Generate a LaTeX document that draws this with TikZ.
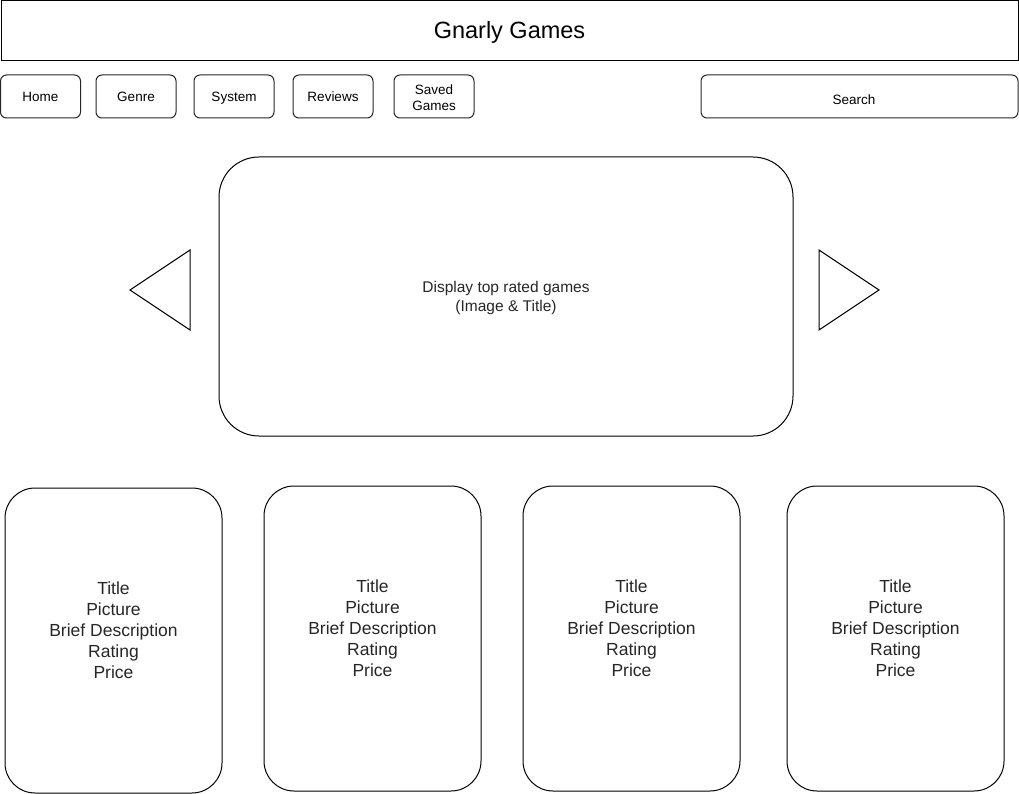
\documentclass[tikz,border=0pt]{standalone}
\usepackage{fontspec}
\setmainfont{Liberation Sans}
\begin{document}
\begin{tikzpicture}[x=1pt,y=-1pt,
  frame/.style={draw=black,line width=1pt,inner sep=0pt},
  navbtn/.style={frame,draw=black!85,rounded corners=6pt,minimum width=80pt,minimum height=43pt},
  navtext/.style={inner sep=0pt,align=center,font=\fontsize{13.5}{16}\selectfont},
  card/.style={frame,rounded corners=30pt,minimum width=217pt,minimum height=305pt},
  cardtext/.style={inner sep=0pt,align=center,font=\fontsize{17.5}{21}\selectfont,text=black!85},
  arrowtri/.style={draw=black,line width=1pt,line join=miter}]
\useasboundingbox (0,0) rectangle (1019,794);
% header
\node[frame,minimum width=1017pt,minimum height=60pt] (header) at (509.5,30.5) {};
\node[inner sep=0pt,font=\fontsize{23.5}{28}\selectfont] (headertext)
  at ([yshift=-2pt]header.center) {Gnarly Games};
% navigation bar
\node[navbtn] (home)    at (40.5,96.5)  {};
\node[navbtn] (genre)   at (136,96.5)   {};
\node[navbtn] (system)  at (234,96.5)   {};
\node[navbtn] (reviews) at (333,96.5)   {};
\node[navbtn] (saved)   at (434,96.5)   {};
\node[navbtn,minimum width=317pt] (search) at (859.5,96.5) {};
\begin{scope}[every node/.append style={navtext,text height=9.7pt,text depth=0pt}]
  \node (hometext)    at ([yshift=-0.5pt]home.center)    {Home};
  \node (genretext)   at ([yshift=-0.5pt]genre.center)   {Genre};
  \node (systemtext)  at ([yshift=-0.5pt]system.center)  {System};
  \node (reviewstext) at ([yshift=-0.5pt]reviews.center) {Reviews};
  \node (searchtext)  at (854,100) {Search};
\end{scope}
\node[navtext] (savedtext) at ([yshift=-1pt]saved.center) {Saved\\Games};
% featured carousel
\node[frame,rounded corners=40pt,minimum width=574pt,minimum height=279pt] (featured) at (506,296.5) {};
\node[inner sep=0pt,align=center,font=\fontsize{15.5}{19}\selectfont,text=black!85]
  (featuredtext) at ([yshift=-1.5pt]featured.center) {Display top rated games\\(Image \& Title)};
\draw[arrowtri] (190,250) -- (130,290) -- (190,330) -- cycle;
\draw[arrowtri] (819,250) -- (879,290) -- (819,330) -- cycle;
% game cards
\foreach \name/\cx/\cy in {cardA/113.5/640.5, cardB/372.5/638.5, cardC/631.5/638.5, cardD/895.5/638.5}{
  \node[card] (\name) at (\cx,\cy) {};
  \node[cardtext] (\name text) at ([yshift=10pt]\name.center)
    {Title\\Picture\\Brief Description\\Rating\\Price};
}
\end{tikzpicture}
\end{document}
